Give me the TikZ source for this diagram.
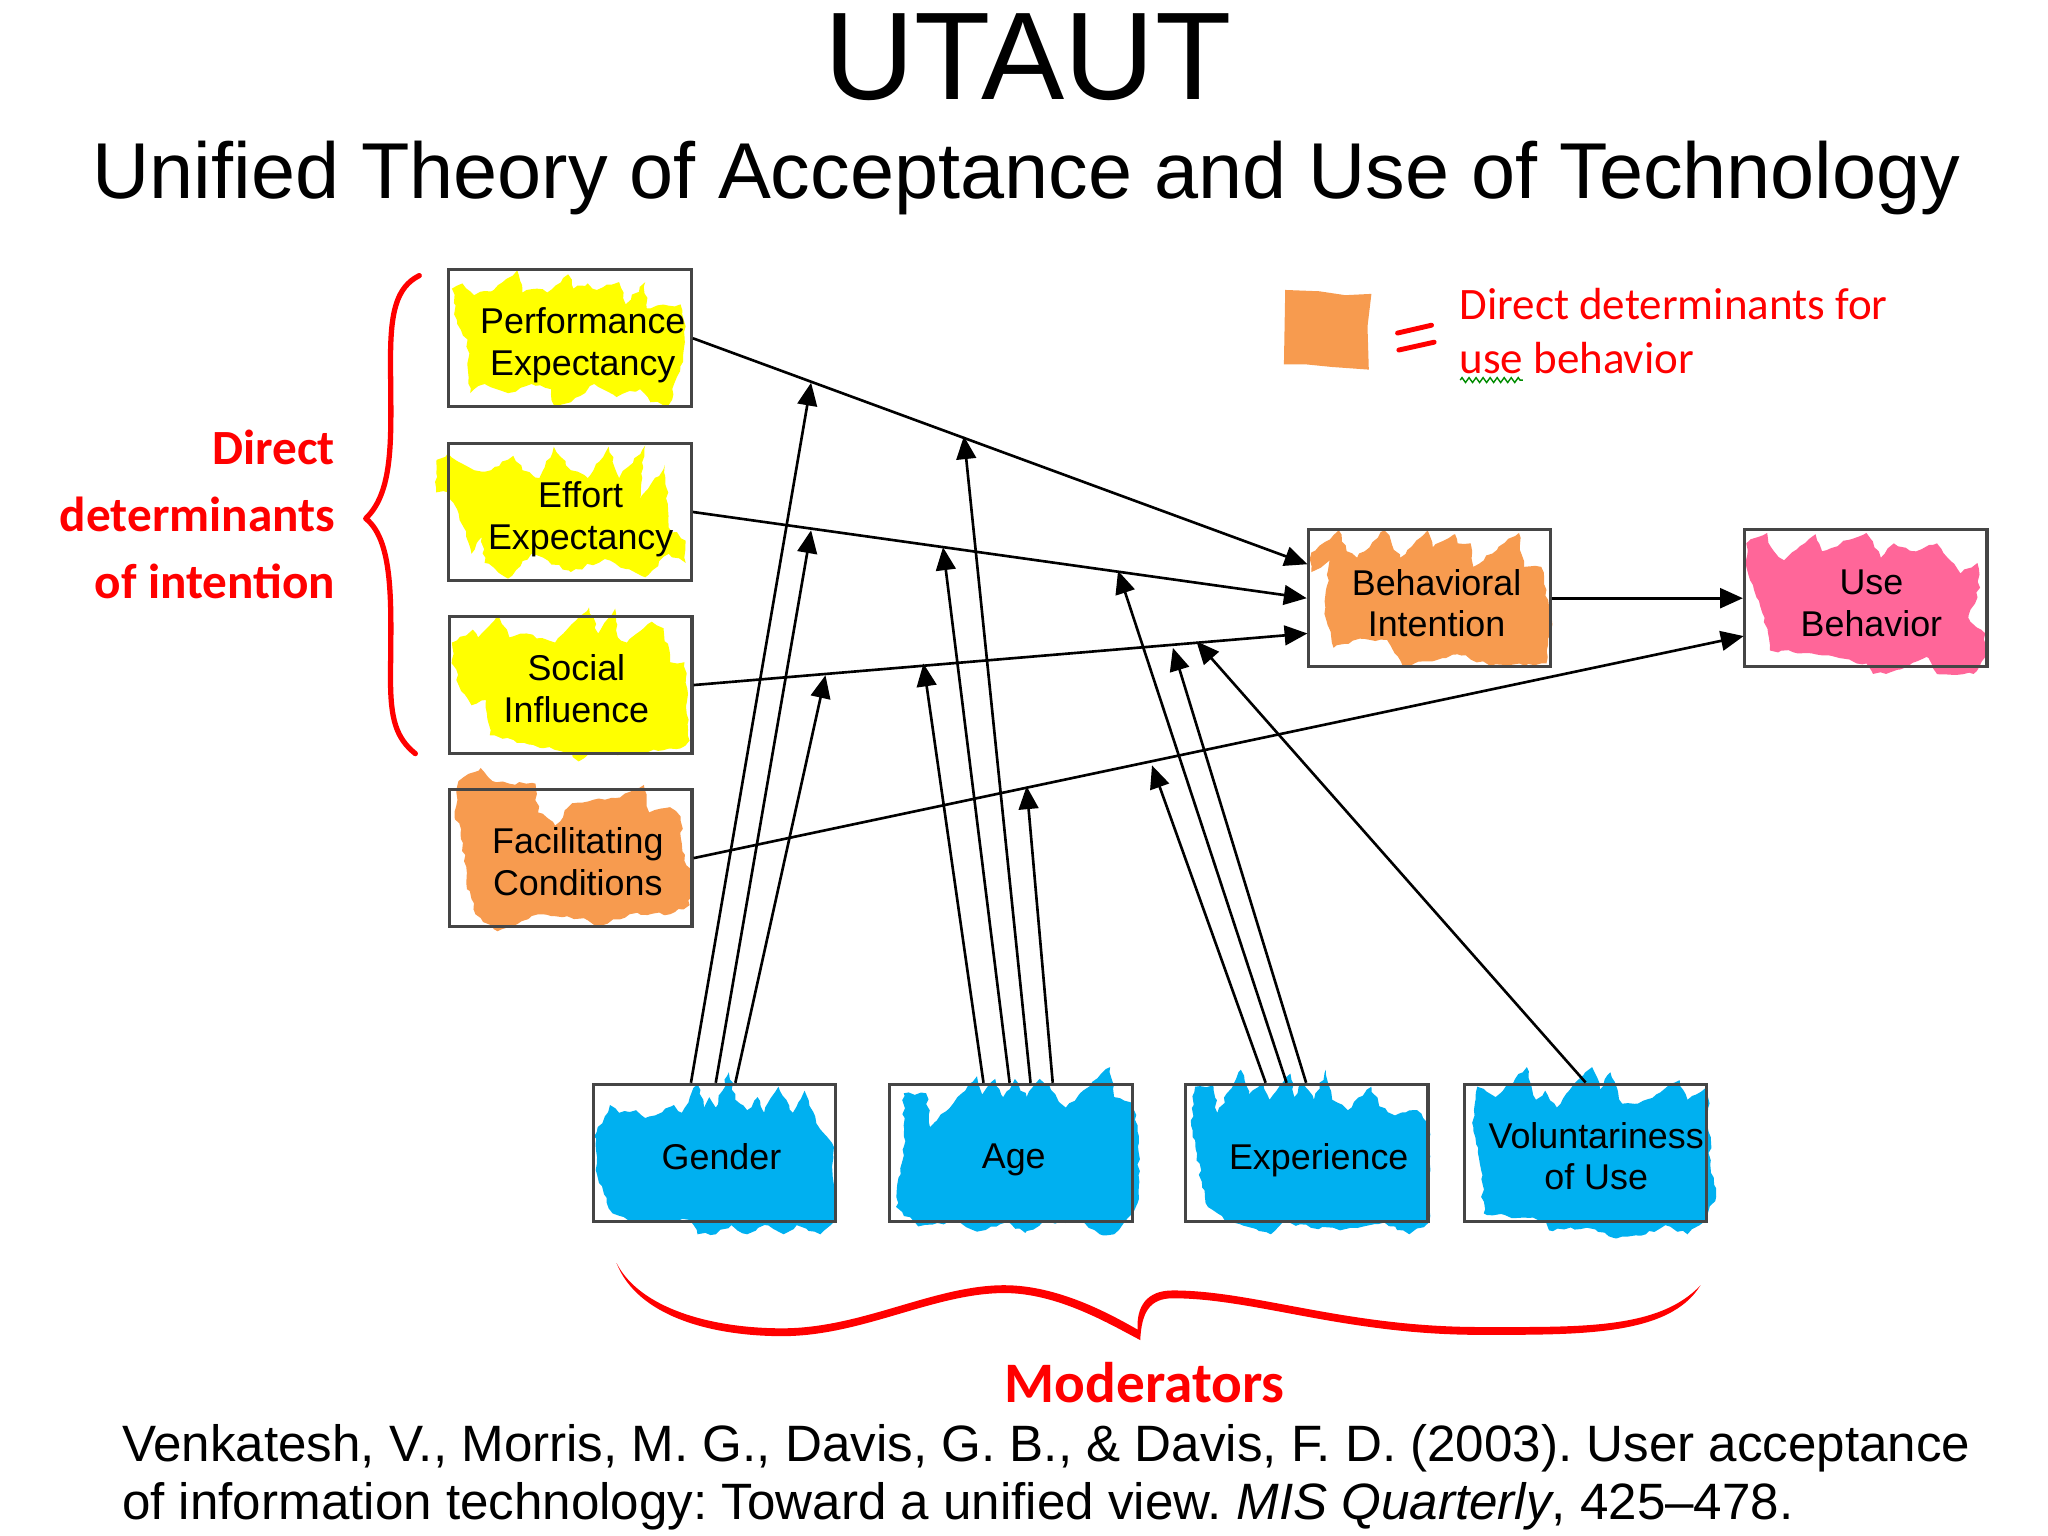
\documentclass[tikz,border=0pt]{standalone}
\usepackage{fontspec}
\setmainfont{Liberation Sans}
\newfontfamily\notefont{Carlito}
\usetikzlibrary{arrows.meta,decorations.pathmorphing}
\definecolor{hlyellow}{HTML}{FFFF00}
\definecolor{hlorange}{HTML}{F79B4F}
\definecolor{hlpink}{HTML}{FF6699}
\definecolor{hlblue}{HTML}{00B0F0}
\definecolor{boxgray}{HTML}{454545}
\tikzset{
	boxnode/.style={draw=boxgray, line width=0.9pt, inner sep=0pt, minimum width=69pt, minimum height=39pt},
	boxtext/.style={align=center, inner sep=0pt, font=\fontsize{10.2}{11.9}\selectfont, text=black},
	scribble/.style={fill=#1, decorate, decoration={random steps, segment length=1.6pt, amplitude=0.5pt}},
	link/.style={draw=black, line width=0.75pt, -{Triangle[length=6.5pt,width=5.6pt]}},
	rednote/.style={text=red, inner sep=0pt, font=\notefont\bfseries\fontsize{14}{19}\selectfont, align=right},
	legendnote/.style={text=red, inner sep=0pt, font=\notefont\fontsize{12.8}{15.2}\selectfont, align=left}
}
\begin{document}
\frenchspacing
\begin{tikzpicture}[x=0.013061cm, y=-0.013061cm]
	\useasboundingbox (0,0) rectangle (1568,1176);
	\pgfmathsetseed{7}
	% titles
	\node[anchor=base, inner sep=0pt, font=\fontsize{35.5}{40}\selectfont] (title) at (787,76) {UTAUT};
	\node[anchor=base, inner sep=0pt, font=\fontsize{22.55}{28}\selectfont] (subtitle) at (786,152) {Unified Theory of Acceptance and Use of Technology};
	% highlighter marks
	\fill[scribble=hlyellow] (346,221) -- (354,217) -- (363,226) -- (378,222) -- (396,207) -- (400,224) -- (411,221) -- (419,224) -- (435,210) -- (439,221) -- (450,217) -- (457,222) -- (474,216) -- (479,233) -- (494,216) -- (495,236) -- (521,233) -- (525,250) -- (523,277) -- (512,310) -- (498,308) -- (490,298) -- (472,304) -- (455,294) -- (437,308) -- (424,310) -- (422,298) -- (407,294) -- (389,301) -- (371,294) -- (360,301) -- (358,260) -- (350,248) -- cycle;
	\fill[scribble=hlyellow] (334,353) -- (334,377) -- (343,377) -- (350,390) -- (361,424) -- (369,411) -- (371,431) -- (389,443) -- (407,424) -- (437,438) -- (463,428) -- (494,442) -- (512,424) -- (525,431) -- (525,414) -- (512,404) -- (509,356) -- (490,383) -- (494,341) -- (474,366) -- (466,342) -- (450,366) -- (437,360) -- (424,342) -- (413,366) -- (400,360) -- (393,349) -- (376,360) -- (363,360) -- (350,353) -- (343,347) -- cycle;
	\fill[scribble=hlyellow] (346,492) -- (362,482) -- (366,488) -- (381,471) -- (390,488) -- (403,485) -- (425,492) -- (451,465) -- (458,485) -- (471,466) -- (473,488) -- (480,492) -- (499,476) -- (508,481) -- (513,507) -- (524,507) -- (528,567) -- (521,573) -- (482,577) -- (451,577) -- (443,583) -- (438,577) -- (405,570) -- (375,563) -- (372,536) -- (361,540) -- (353,529) -- (346,505) -- cycle;
	\fill[scribble=hlorange] (351,598) -- (368,588) -- (377,598) -- (390,600) -- (410,600) -- (412,622) -- (425,632) -- (438,615) -- (471,611) -- (493,601) -- (497,622) -- (513,618) -- (521,625) -- (524,659) -- (530,669) -- (528,693) -- (513,700) -- (482,700) -- (458,710) -- (447,703) -- (412,700) -- (381,713) -- (364,700) -- (357,676) -- (353,635) -- (348,625) -- cycle;
	\fill[scribble=hlorange] (1004,423) -- (1025,406) -- (1031,422) -- (1039,427) -- (1060,406) -- (1072,427) -- (1093,406) -- (1097,419) -- (1114,409) -- (1116,416) -- (1126,416) -- (1128,434) -- (1163,408) -- (1167,434) -- (1180,434) -- (1188,473) -- (1184,508) -- (1143,510) -- (1116,501) -- (1074,510) -- (1062,490) -- (1041,489) -- (1021,496) -- (1014,470) -- (1018,429) -- (1004,438) -- cycle;
	\fill[scribble=hlpink] (1337,416) -- (1353,408) -- (1356,419) -- (1366,429) -- (1390,409) -- (1395,422) -- (1429,408) -- (1440,427) -- (1450,416) -- (1464,422) -- (1483,416) -- (1501,439) -- (1514,431) -- (1516,450) -- (1507,473) -- (1520,485) -- (1520,503) -- (1511,516) -- (1483,516) -- (1475,503) -- (1444,516) -- (1434,516) -- (1429,508) -- (1382,500) -- (1355,498) -- (1351,473) -- (1343,452) -- (1337,434) -- cycle;
	\fill[scribble=hlblue] (455,870) -- (467,846) -- (474,852) -- (487,850) -- (494,856) -- (516,846) -- (522,852) -- (534,830) -- (539,848) -- (543,840) -- (548,848) -- (558,821) -- (563,842) -- (572,850) -- (580,840) -- (585,852) -- (596,832) -- (602,842) -- (607,852) -- (616,835) -- (625,860) -- (637,875) -- (640,934) -- (628,945) -- (610,938) -- (600,945) -- (585,938) -- (572,945) -- (560,938) -- (548,945) -- (534,945) -- (528,934) -- (484,936) -- (469,929) -- (458,903) -- cycle;
	\fill[scribble=hlblue] (692,837) -- (709,837) -- (712,863) -- (733,840) -- (748,824) -- (752,838) -- (762,826) -- (768,840) -- (777,826) -- (786,840) -- (796,826) -- (803,830) -- (809,840) -- (816,848) -- (827,837) -- (850,817) -- (853,840) -- (868,845) -- (872,870) -- (871,921) -- (865,931) -- (853,945) -- (842,945) -- (830,936) -- (798,936) -- (785,944) -- (770,936) -- (748,943) -- (735,936) -- (703,939) -- (686,924) -- (692,878) -- cycle;
	\fill[scribble=hlblue] (912,862) -- (915,832) -- (929,831) -- (932,852) -- (950,819) -- (956,838) -- (967,829) -- (972,842) -- (988,822) -- (991,840) -- (997,829) -- (1006,842) -- (1015,819) -- (1020,842) -- (1032,850) -- (1050,832) -- (1056,847) -- (1068,854) -- (1085,850) -- (1094,863) -- (1094,936) -- (1079,945) -- (1060,936) -- (1044,939) -- (1026,942) -- (982,936) -- (973,945) -- (938,935) -- (923,921) -- cycle;
	\fill[scribble=hlblue] (1128,863) -- (1131,832) -- (1145,840) -- (1160,826) -- (1169,817) -- (1176,842) -- (1183,835) -- (1192,848) -- (1205,830) -- (1219,817) -- (1225,834) -- (1233,821) -- (1242,845) -- (1254,845) -- (1268,838) -- (1286,827) -- (1292,842) -- (1307,832) -- (1310,898) -- (1314,916) -- (1304,936) -- (1292,945) -- (1275,938) -- (1260,945) -- (1236,948) -- (1215,940) -- (1186,942) -- (1183,934) -- (1136,929) -- (1134,896) -- cycle;
	% boxes
	\node[boxnode, label={[boxtext, xshift=3.6pt, yshift=-2pt]center:{Performance\\Expectancy}}] (perf) at (436.5,259) {};
	\node[boxnode, label={[boxtext, xshift=3pt, yshift=-2pt]center:{Effort\\Expectancy}}] (effort) at (436.5,392) {};
	\node[boxnode, label={[boxtext, xshift=1.6pt, yshift=-1pt]center:{Social\\Influence}}] (social) at (437,524.5) {};
	\node[boxnode, label={[boxtext, xshift=2pt, yshift=-1pt]center:{Facilitating\\Conditions}}] (facil) at (437,657) {};
	\node[boxnode, label={[boxtext, xshift=2pt, yshift=-1.4pt]center:{Behavioral\\Intention}}] (intent) at (1094.5,458) {};
	\node[boxnode, label={[boxtext, xshift=1.6pt, yshift=-1.4pt]center:{Use\\Behavior}}] (use) at (1428.5,458) {};
	\node[boxnode, label={[boxtext, xshift=2pt, yshift=-1.1pt]center:Gender}] (gender) at (547,882.5) {};
	\node[boxnode, label={[boxtext, xshift=0.8pt, yshift=-2.2pt]center:Age}] (age) at (774,882.5) {};
	\node[boxnode, label={[boxtext, xshift=3.4pt, yshift=-2.2pt]center:Experience}] (exper) at (1000.5,882.5) {};
	\node[boxnode, label={[boxtext, xshift=3pt, yshift=-1pt]center:{Voluntariness\\of Use}}] (volun) at (1214,882.5) {};
	% free ends of the moderator arrows
	\coordinate (intenta) at (1001,432);
	\coordinate (intentc) at (1001,485);
	\coordinate (useb) at (1335,487);
	\coordinate (genderp) at (529,829); \coordinate (genderq) at (548,829); \coordinate (genderr) at (563,829);
	\coordinate (agep) at (753,829); \coordinate (ageq) at (773,829); \coordinate (ager) at (789,829); \coordinate (ages) at (806,829);
	\coordinate (experp) at (969,829); \coordinate (experq) at (985,829); \coordinate (experr) at (1000,829);
	\coordinate (tipa) at (621,293); \coordinate (tipb) at (621,406); \coordinate (tipc) at (632,517);
	\coordinate (tipd) at (707,508); \coordinate (tipe) at (722,419); \coordinate (tipf) at (738,334); \coordinate (tipg) at (786,602);
	\coordinate (tiph) at (882,586); \coordinate (tipi) at (856,437); \coordinate (tipj) at (898,496);
	\coordinate (tipk) at (916,491);
	% arrows
	\draw[link] (perf.east) -- (intenta);
	\draw[link] (effort.east) -- (intent.west);
	\draw[link] (social.east) -- (intentc);
	\draw[link] (facil.east) -- (useb);
	\draw[link, line width=0.95pt] (intent.east) -- (use.west);
	\draw[link] (genderp) -- (tipa);
	\draw[link] (genderq) -- (tipb);
	\draw[link] (genderr) -- (tipc);
	\draw[link] (agep) -- (tipd);
	\draw[link] (ageq) -- (tipe);
	\draw[link] (ager) -- (tipf);
	\draw[link] (ages) -- (tipg);
	\draw[link] (experp) -- (tiph);
	\draw[link] (experq) -- (tipi);
	\draw[link] (experr) -- (tipj);
	\draw[link] (volun.north) -- (tipk);
	% left brace
	\draw[red, line width=1.5pt, line cap=round, line join=round] (321,211) .. controls (303,220) and (299,240) .. (299,275) .. controls (299,330) and (303,375) .. (280,397) .. controls (303,415) and (299,470) .. (299,520) .. controls (299,550) and (303,565) .. (318,577);
	\node[rednote, anchor=base east] (direct) at (257,458) {Direct\\determinants\\of intention};
	% bottom brace
	\fill[red] (472,967) .. controls (490,1002) and (545,1017) .. (599,1017) .. controls (660,1017) and (715,984) .. (769,984) .. controls (810,984) and (850,1006) .. (871,1018) .. controls (870,1000) and (878,988) .. (898,988) .. controls (960,988) and (1030,1016) .. (1133,1016) .. controls (1210,1016) and (1270,1018) .. (1302,984) .. controls (1278,1023) and (1210,1022) .. (1133,1022) .. controls (1030,1022) and (960,994) .. (898,994) .. controls (880,994) and (874,1005) .. (873,1026) .. controls (850,1014) and (810,990) .. (769,990) .. controls (715,990) and (660,1023) .. (599,1023) .. controls (545,1023) and (488,1008) .. (472,967) -- cycle;
	\node[rednote, anchor=base, font=\notefont\bfseries\fontsize{16.3}{18}\selectfont] (moder) at (876.5,1074) {Moderators};
	% legend
	\fill[hlorange] (984,222) -- (1010,223) -- (1030,226) -- (1050,225) -- (1047,250) -- (1048,283) -- (1020,281) -- (1000,279) -- (983,279) -- cycle;
	\draw[red, line width=1.4pt, line cap=round] (1070,255) -- (1096,249);
	\draw[red, line width=1.4pt, line cap=round] (1071,268) -- (1098,262);
	\node[legendnote, anchor=base west] (legendtop) at (1117,245) {Direct determinants for};
	\node[legendnote, anchor=base west] (legendbot) at (1117,286) {use behavior};
	\draw[green!55!black, line width=0.4pt, decorate, decoration={zigzag, segment length=2pt, amplitude=0.7pt}] (1118,291) -- (1166,291);
	% reference
	\node[anchor=base west, inner sep=0pt, font=\fontsize{14.55}{16.4}\selectfont] (refa) at (93,1119) {Venkatesh, V., Morris, M. G., Davis, G. B., \& Davis, F. D. (2003). User acceptance};
	\node[anchor=base west, inner sep=0pt, font=\fontsize{14.55}{16.4}\selectfont] (refb) at (93,1163) {of information technology: Toward a unified view. \textit{MIS Quarterly}, 425–478.};
\end{tikzpicture}
\end{document}
